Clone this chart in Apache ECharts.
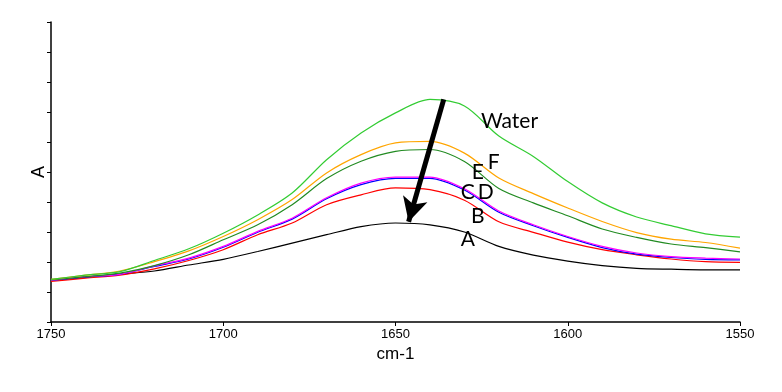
<!DOCTYPE html>
<html>
<head>
<meta charset="utf-8">
<script src="https://cdn.jsdelivr.net/npm/echarts@6/dist/echarts.min.js"></script>
<style>html,body{margin:0;padding:0;background:#fff;}#c{width:782px;height:392px;}</style>
</head>
<body>
<div id="c"></div>
<script>
var wavenumbers = [1750, 1740, 1730, 1720, 1710, 1700, 1690, 1680, 1670, 1660, 1650, 1640, 1630, 1620, 1610, 1600, 1590, 1580, 1570, 1560, 1550];
var water   = [0.142, 0.156, 0.168, 0.205, 0.244, 0.296, 0.357, 0.430, 0.541, 0.630, 0.697, 0.742, 0.720, 0.620, 0.552, 0.468, 0.397, 0.350, 0.321, 0.294, 0.283];
var sampleF = [0.142, 0.156, 0.170, 0.201, 0.237, 0.285, 0.341, 0.408, 0.497, 0.558, 0.597, 0.602, 0.563, 0.480, 0.428, 0.380, 0.335, 0.298, 0.276, 0.265, 0.246];
var sampleE = [0.140, 0.151, 0.163, 0.188, 0.224, 0.274, 0.324, 0.391, 0.478, 0.536, 0.569, 0.575, 0.535, 0.445, 0.397, 0.354, 0.310, 0.282, 0.260, 0.248, 0.234];
var sampleD = [0.139, 0.151, 0.159, 0.187, 0.213, 0.252, 0.302, 0.346, 0.414, 0.463, 0.483, 0.483, 0.444, 0.370, 0.324, 0.285, 0.252, 0.230, 0.218, 0.213, 0.210];
var sampleC = [0.139, 0.150, 0.159, 0.185, 0.210, 0.249, 0.299, 0.343, 0.411, 0.458, 0.479, 0.479, 0.440, 0.366, 0.321, 0.282, 0.248, 0.226, 0.215, 0.209, 0.207];
var sampleB = [0.135, 0.146, 0.156, 0.177, 0.205, 0.241, 0.291, 0.330, 0.391, 0.424, 0.447, 0.441, 0.406, 0.334, 0.299, 0.266, 0.241, 0.224, 0.210, 0.201, 0.199];
var sampleA = [0.139, 0.149, 0.160, 0.170, 0.190, 0.209, 0.235, 0.263, 0.291, 0.318, 0.330, 0.324, 0.300, 0.252, 0.223, 0.203, 0.188, 0.179, 0.176, 0.174, 0.174];
var xTicks = [1750, 1700, 1650, 1600, 1550];

function pairs(arr) { return wavenumbers.map(function (w, i) { return [w, arr[i]]; }); }

var labelFont = { fontFamily: 'Lato', fontSize: 21, color: '#000' };
function tag(text, wn, v) {
  return { coord: [wn, v], symbol: 'circle', symbolSize: 0, label: Object.assign({ show: true, formatter: text, position: 'inside' }, labelFont) };
}

var chart = echarts.init(document.getElementById('c'), null, { renderer: 'canvas' });
function mk(name, data, color, extra) {
  return Object.assign({
    name: name, type: 'line', data: pairs(data), showSymbol: false, smooth: 0.3,
    lineStyle: { color: color, width: 1.2 }, itemStyle: { color: color }, animation: false, z: 3
  }, extra || {});
}
chart.setOption({
  animation: false,
  grid: { left: 51, right: 42, top: 22, bottom: 70 },
  xAxis: {
    type: 'value', inverse: true, min: 1550, max: 1750, interval: 50,
    name: 'cm-1', nameLocation: 'middle', nameGap: 24,
    nameTextStyle: { fontFamily: 'Liberation Sans', fontSize: 17, color: '#000' },
    axisLine: { lineStyle: { color: '#000', width: 1.5 } },
    axisTick: { show: true, length: 4, lineStyle: { color: '#000' } },
    axisLabel: { fontFamily: 'Liberation Sans', fontSize: 13, color: '#000', margin: 6,
      formatter: function (v) { return xTicks.indexOf(v) >= 0 ? String(v) : ''; } },
    splitLine: { show: false }
  },
  yAxis: {
    type: 'value', min: 0, max: 1, interval: 0.1,
    name: 'A', nameLocation: 'middle', nameGap: 3, nameRotate: 90,
    nameTextStyle: { fontFamily: 'Liberation Sans', fontSize: 18, color: '#000' },
    axisLine: { show: true, lineStyle: { color: '#000', width: 1.5 } },
    axisTick: { show: true, length: 4, lineStyle: { color: '#000' } },
    axisLabel: { show: false },
    splitLine: { show: false }
  },
  series: [
    mk('A', sampleA, '#000000', {
      markLine: {
        silent: true, symbol: ['none', 'arrow'], symbolSize: [19, 24],
        lineStyle: { color: '#000', width: 5, type: 'solid' }, label: { show: false },
        data: [[{ coord: [1636, 0.742] }, { coord: [1646.2, 0.334] }]]
      },
      markPoint: { silent: true, data: [tag('A', 1629.0, 0.277)] }
    }),
    mk('B', sampleB, '#ff0000', { markPoint: { silent: true, data: [tag('B', 1626.1, 0.354)] } }),
    mk('C', sampleC, '#0000ff', { markPoint: { silent: true, data: [tag('C', 1629.0, 0.431)] } }),
    mk('D', sampleD, '#ff00ff', { markPoint: { silent: true, data: [tag('D', 1623.8, 0.434)] } }),
    mk('E', sampleE, '#228b22', { markPoint: { silent: true, data: [tag('E', 1626.1, 0.498)] } }),
    mk('F', sampleF, '#ffa500', { markPoint: { silent: true, data: [tag('F', 1621.5, 0.531)] } }),
    mk('Water', water, '#33cc33', { markPoint: { silent: true, data: [tag('Water', 1616.9, 0.668)] } })
  ]
});
</script>
</body>
</html>
